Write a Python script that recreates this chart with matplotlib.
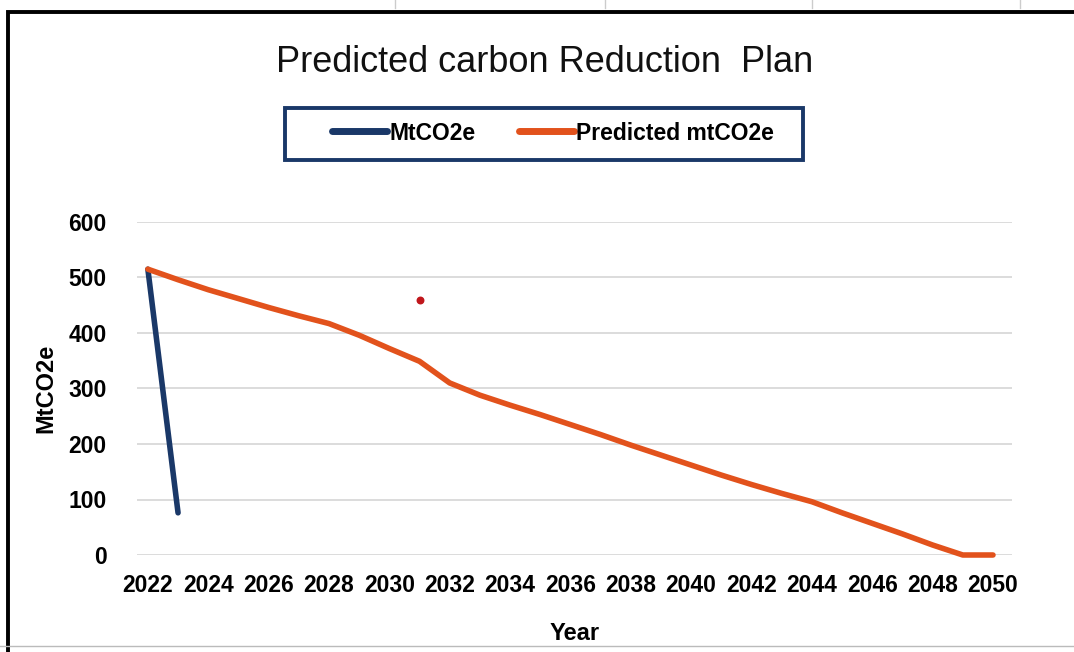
import matplotlib
matplotlib.use("Agg")
import matplotlib.pyplot as plt
from matplotlib.patches import Rectangle

years = list(range(2022, 2051))
actual_years = [2022, 2023]
actual = [515, 76]
predicted = [515, 496, 478, 462, 446, 431, 417, 396, 372, 349,
             310, 288, 270, 253, 235, 217, 198, 180, 162, 144,
             127, 111, 96, 76, 57, 38, 18, 0, 0]
stray_year = [2031]
stray_val = [459]
tick_years = list(range(2022, 2051, 2))
y_ticks = [0, 100, 200, 300, 400, 500, 600]

plt.rcParams['font.family'] = ['Liberation Sans', 'DejaVu Sans']

W, H = 1074, 652
fig = plt.figure(figsize=(W / 100, H / 100), dpi=100)

# plot area in pixel terms of the reference
left, right, top, bottom = 137, 1012, 222, 555
ax = fig.add_axes([left / W, 1 - bottom / H, (right - left) / W, (bottom - top) / H])

navy = "#1a3868"
orange = "#e2521c"

ax.plot(actual_years, actual, color=navy, lw=4, solid_capstyle='round', label="MtCO2e", zorder=3)
ax.plot(years, predicted, color=orange, lw=4, solid_capstyle='round', label="Predicted mtCO2e", zorder=4)
ax.scatter(stray_year, stray_val, color="#c0161b", s=22, zorder=5)

ax.set_xlim(2021.64, 2050.63)
ax.set_ylim(0, 600)
ax.set_yticks(y_ticks)
ax.set_xticks(tick_years)
ax.tick_params(length=0, labelsize=16.5, pad=14)
for lab in ax.get_xticklabels() + ax.get_yticklabels():
    lab.set_fontweight('bold')
ax.tick_params(axis='y', pad=22)
ax.grid(axis='y', color="#d9d9d9", lw=1.3)
ax.set_axisbelow(True)
for s in ax.spines.values():
    s.set_visible(False)
for ln in ax.lines:
    ln.set_clip_on(False)

ax.set_xlabel("Year", fontsize=17, fontweight='bold', labelpad=18)
ax.set_ylabel("MtCO2e", fontsize=17, fontweight='bold', labelpad=8)

fig.text(545 / W, 1 - 62 / H, "Predicted carbon Reduction  Plan", fontsize=26,
         ha='center', va='center', color="#111111")

# legend entries without frame, box drawn separately to the reference size
leg = fig.legend(loc='center', bbox_to_anchor=(553 / W, 1 - 133 / H), ncol=2,
                 fontsize=16.5, frameon=False, handlelength=2.4,
                 handletextpad=0.1, columnspacing=1.9)
for t in leg.get_texts():
    t.set_fontweight('bold')
for h in leg.legend_handles:
    h.set_linewidth(5)
fig.patches.append(Rectangle((285 / W, 1 - 160 / H), 518 / W, 52 / H, transform=fig.transFigure,
                             fill=False, edgecolor=navy, lw=2.8))

# chart border (sheet object frame) and faint spreadsheet cells outside it
fig.patches.append(Rectangle((8 / W, -0.02), 1.05, 1 - 12 / H + 0.02, transform=fig.transFigure,
                             fill=False, edgecolor="black", lw=2.8))
for gx in [395, 605, 812, 1020]:
    fig.add_artist(plt.Line2D([gx / W, gx / W], [1 - 8 / H, 1], transform=fig.transFigure,
                              color="#cccccc", lw=1))
fig.add_artist(plt.Line2D([0, 1], [1 - 646 / H, 1 - 646 / H], transform=fig.transFigure,
                          color="#bbbbbb", lw=1))

fig.savefig("out.png", dpi=100)
